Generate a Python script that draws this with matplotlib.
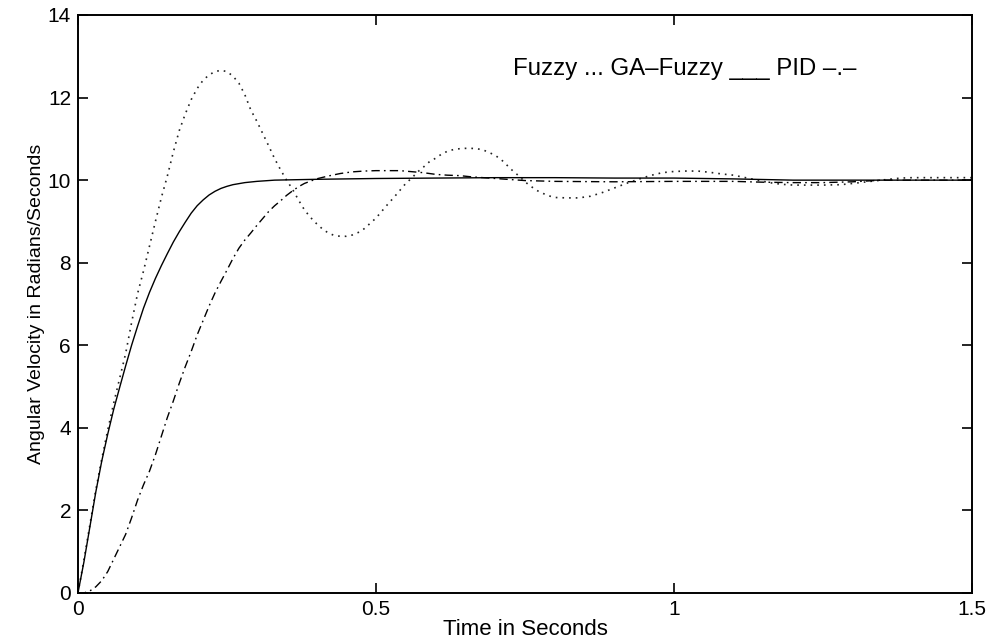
import matplotlib
matplotlib.use("Agg")
import matplotlib.pyplot as plt

plt.rcParams['font.family'] = ['Liberation Sans', 'DejaVu Sans']

# Time axis samples (s) and responses (rad/s)
fuzzy_t = [0, 0.01, 0.02, 0.03, 0.04, 0.05, 0.06, 0.07, 0.08, 0.09, 0.10, 0.11, 0.12, 0.13,
           0.14, 0.15, 0.16, 0.17, 0.18, 0.19, 0.20, 0.21, 0.22, 0.23, 0.24, 0.25, 0.26, 0.27,
           0.28, 0.29, 0.30, 0.31, 0.32, 0.33, 0.34, 0.35, 0.36, 0.37, 0.38, 0.39, 0.40, 0.41,
           0.42, 0.43, 0.44, 0.45, 0.46, 0.47, 0.48, 0.49, 0.50, 0.51, 0.52, 0.53, 0.54, 0.55,
           0.56, 0.57, 0.58, 0.59, 0.60, 0.61, 0.62, 0.63, 0.64, 0.65, 0.66, 0.67, 0.68, 0.69,
           0.70, 0.71, 0.72, 0.73, 0.74, 0.75, 0.76, 0.77, 0.78, 0.79, 0.80, 0.82, 0.84, 0.86,
           0.88, 0.90, 0.92, 0.94, 0.96, 0.98, 1.00, 1.02, 1.04, 1.06, 1.08, 1.10, 1.12, 1.14,
           1.16, 1.18, 1.20, 1.25, 1.28, 1.30, 1.33, 1.36, 1.38, 1.40, 1.50]
fuzzy_y = [0, 0.8, 1.65, 2.5, 3.25, 3.95, 4.6, 5.2, 5.8, 6.55, 7.25, 7.8, 8.4, 9.0,
           9.58, 10.1, 10.68, 11.2, 11.6, 11.95, 12.22, 12.42, 12.55, 12.63, 12.66, 12.63, 12.52, 12.35,
           12.07, 11.7, 11.43, 11.13, 10.83, 10.52, 10.25, 10.0, 9.78, 9.52, 9.28, 9.1, 8.95, 8.82,
           8.72, 8.66, 8.64, 8.64, 8.67, 8.73, 8.82, 8.95, 9.08, 9.25, 9.42, 9.58, 9.75, 9.92,
           10.05, 10.2, 10.32, 10.45, 10.53, 10.63, 10.7, 10.74, 10.76, 10.77, 10.77, 10.76, 10.73, 10.67,
           10.6, 10.5, 10.36, 10.22, 10.1, 9.96, 9.85, 9.75, 9.68, 9.62, 9.58, 9.57, 9.57, 9.61,
           9.7, 9.81, 9.92, 10.02, 10.11, 10.18, 10.21, 10.22, 10.22, 10.19, 10.15, 10.12, 10.06, 10.0,
           9.94, 9.9, 9.88, 9.88, 9.89, 9.92, 9.97, 10.02, 10.05, 10.06, 10.06]

ga_t = [0, 0.01, 0.02, 0.03, 0.04, 0.05, 0.06, 0.07, 0.08, 0.09, 0.10, 0.11, 0.12, 0.13,
        0.14, 0.15, 0.16, 0.17, 0.18, 0.19, 0.20, 0.21, 0.22, 0.23, 0.24, 0.25, 0.26, 0.28,
        0.30, 0.33, 0.40, 0.50, 0.60, 0.70, 0.80, 0.90, 1.00, 1.10, 1.20, 1.50]
ga_y = [0, 0.75, 1.6, 2.45, 3.2, 3.85, 4.45, 4.98, 5.5, 6.0, 6.46, 6.9, 7.28, 7.62,
        7.93, 8.22, 8.5, 8.75, 8.98, 9.2, 9.38, 9.52, 9.64, 9.73, 9.8, 9.85, 9.89, 9.94,
        9.97, 10.0, 10.02, 10.04, 10.05, 10.06, 10.06, 10.05, 10.05, 10.03, 10.0, 10.0]

pid_t = [0, 0.01, 0.02, 0.03, 0.04, 0.05, 0.06, 0.07, 0.08, 0.09, 0.10, 0.11, 0.12, 0.13,
         0.14, 0.15, 0.16, 0.17, 0.18, 0.19, 0.20, 0.21, 0.22, 0.23, 0.24, 0.25, 0.26, 0.27,
         0.28, 0.29, 0.30, 0.31, 0.32, 0.33, 0.34, 0.35, 0.36, 0.37, 0.38, 0.40, 0.42, 0.44,
         0.46, 0.48, 0.50, 0.54, 0.58, 0.60, 0.62, 0.64, 0.66, 0.70, 0.75, 0.80, 0.90, 1.00,
         1.10, 1.15, 1.20, 1.25, 1.30, 1.35, 1.50]
pid_y = [0, 0.0, 0.05, 0.15, 0.3, 0.52, 0.82, 1.12, 1.42, 1.82, 2.25, 2.62, 2.95, 3.35,
         3.8, 4.25, 4.65, 5.08, 5.48, 5.85, 6.25, 6.6, 6.95, 7.27, 7.55, 7.82, 8.1, 8.35,
         8.55, 8.72, 8.9, 9.07, 9.24, 9.38, 9.5, 9.63, 9.74, 9.84, 9.92, 10.03, 10.1, 10.16,
         10.2, 10.22, 10.23, 10.23, 10.18, 10.14, 10.12, 10.11, 10.08, 10.04, 9.99, 9.97, 9.96, 9.97,
         9.97, 9.95, 9.94, 9.94, 9.96, 10.0, 10.0]

x_ticks = [0, 0.5, 1, 1.5]
x_tick_labels = ['0', '0.5', '1', '1.5']
y_ticks = [0, 2, 4, 6, 8, 10, 12, 14]
legend_text = "Fuzzy ... GA\u2013Fuzzy ___ PID \u2013.\u2013"
x_label = "Time in Seconds"
y_label = "Angular Velocity in Radians/Seconds"

fig = plt.figure(figsize=(10.02, 6.41), dpi=100)
ax = fig.add_axes([0.0778, 0.0749, 0.8922, 0.9017])

ax.plot(fuzzy_t, fuzzy_y, color='#222222', linestyle=(0, (1, 3)), linewidth=1.2)
ax.plot(ga_t, ga_y, color='black', linestyle='-', linewidth=1.0)
ax.plot(pid_t, pid_y, color='black', linestyle=(0, (6, 3, 1.2, 3)), linewidth=1.0)

ax.set_xlim(0, 1.5)
ax.set_ylim(0, 14)
ax.set_xticks(x_ticks)
ax.set_xticklabels(x_tick_labels)
ax.set_yticks(y_ticks)

ax.tick_params(direction='in', top=True, right=True, length=7, width=1.2,
               labelsize=15, colors='black')
ax.tick_params(axis='x', pad=5)
ax.tick_params(axis='y', pad=5)
for s in ax.spines.values():
    s.set_linewidth(1.4)
    s.set_color('black')

ax.set_xlabel(x_label, fontsize=16, labelpad=0)
ax.set_ylabel(y_label, fontsize=14, labelpad=2)

ax.text(0.73, 12.7, legend_text, fontsize=17.3, ha='left', va='center')

fig.savefig("out.png", dpi=100)
